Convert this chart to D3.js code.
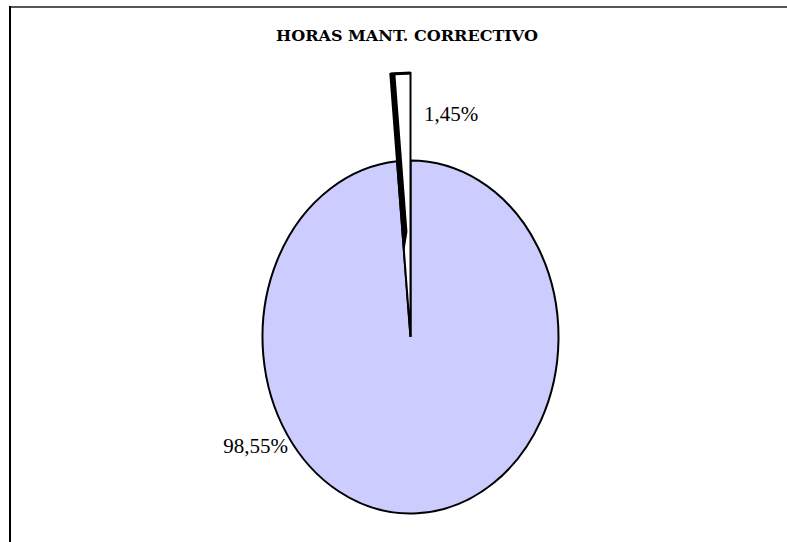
<!DOCTYPE html>
<html>
<head>
<meta charset="utf-8">
<script src="https://cdn.jsdelivr.net/npm/d3@7"></script>
<style>
  html, body { margin: 0; padding: 0; background: #fff; }
  svg { display: block; }
</style>
</head>
<body>
<script>
// Hours of corrective maintenance, share by category
const categories = ["Otros", "Mant. correctivo"];
const shares = [1.45, 98.55];
const labels = ["1,45%", "98,55%"];
const titleText = "HORAS MANT. CORRECTIVO";

const W = 787, H = 542;
const svg = d3.select("body").append("svg")
  .attr("width", W).attr("height", H);

// chart area frame (continues past the right and bottom edges)
svg.append("line").attr("x1", 10).attr("y1", 7).attr("x2", W + 5).attr("y2", 7)
  .attr("stroke", "#555").attr("stroke-width", 2);
svg.append("line").attr("x1", 10).attr("y1", 6).attr("x2", 10).attr("y2", H + 5)
  .attr("stroke", "#000").attr("stroke-width", 2);

// title
svg.append("text")
  .attr("x", 407).attr("y", 40.5)
  .attr("text-anchor", "middle")
  .attr("font-family", "'DejaVu Serif', 'Liberation Serif', serif")
  .attr("font-weight", "bold")
  .attr("font-size", 15.5)
  .attr("textLength", 262)
  .attr("lengthAdjust", "spacingAndGlyphs")
  .attr("fill", "#000")
  .text(titleText);

// elliptical pie
const cx = 410.5, cy = 337, rx = 148, ry = 176.5;
const kx = rx / ry;
const total = d3.sum(shares);
const startA = -2 * Math.PI * shares[0] / total;

const pie = d3.pie().sort(null).value(d => d)
  .startAngle(startA).endAngle(startA + 2 * Math.PI);
const arcs = pie(shares);

const arcMain = d3.arc().innerRadius(0).outerRadius(ry);
const explodedR = 264;   // pulled-out slice reaches further out
const arcSmall = d3.arc().innerRadius(0).outerRadius(explodedR);

const g = svg.append("g")
  .attr("transform", `translate(${cx},${cy}) scale(${kx},1)`);

// large slice
g.append("path")
  .attr("d", arcMain(arcs[1]))
  .attr("fill", "#CCCCFF")
  .attr("stroke", "#000")
  .attr("stroke-width", 2)
  .attr("vector-effect", "non-scaling-stroke");

// exploded small slice
g.append("path")
  .attr("d", arcSmall(arcs[0]))
  .attr("fill", "#fff")
  .attr("stroke", "#000")
  .attr("stroke-width", 2)
  .attr("stroke-linejoin", "miter")
  .attr("vector-effect", "non-scaling-stroke");

// dark side face along the leading edge of the small slice
const pt = (a, r) => [cx + kx * r * Math.sin(a), cy - r * Math.cos(a)];
const outerL = pt(arcs[0].startAngle, explodedR);
const along = t => [outerL[0] + t * (cx - outerL[0]), outerL[1] + t * (cy - outerL[1])];
const depth = 5;
const a0 = along(0), a1 = along(0.60), a2 = along(0.68);
svg.append("path")
  .attr("d", d3.line()([
    a0,
    [a0[0] + depth, a0[1]],
    [a1[0] + depth, a1[1]],
    a2
  ]) + "Z")
  .attr("fill", "#000");

// top edge of the small slice drawn heavier
const outerR = pt(arcs[0].endAngle, explodedR);
svg.append("line")
  .attr("x1", outerL[0]).attr("y1", outerL[1])
  .attr("x2", outerR[0]).attr("y2", outerR[1])
  .attr("stroke", "#000").attr("stroke-width", 3);

// data labels
const labelFont = "'Liberation Serif', 'Times New Roman', serif";
svg.append("text")
  .attr("x", 424).attr("y", 121)
  .attr("font-family", labelFont).attr("font-size", 21)
  .attr("fill", "#000")
  .text(labels[0]);
svg.append("text")
  .attr("x", 288).attr("y", 453)
  .attr("text-anchor", "end")
  .attr("font-family", labelFont).attr("font-size", 21)
  .attr("fill", "#000")
  .text(labels[1]);
</script>
</body>
</html>
